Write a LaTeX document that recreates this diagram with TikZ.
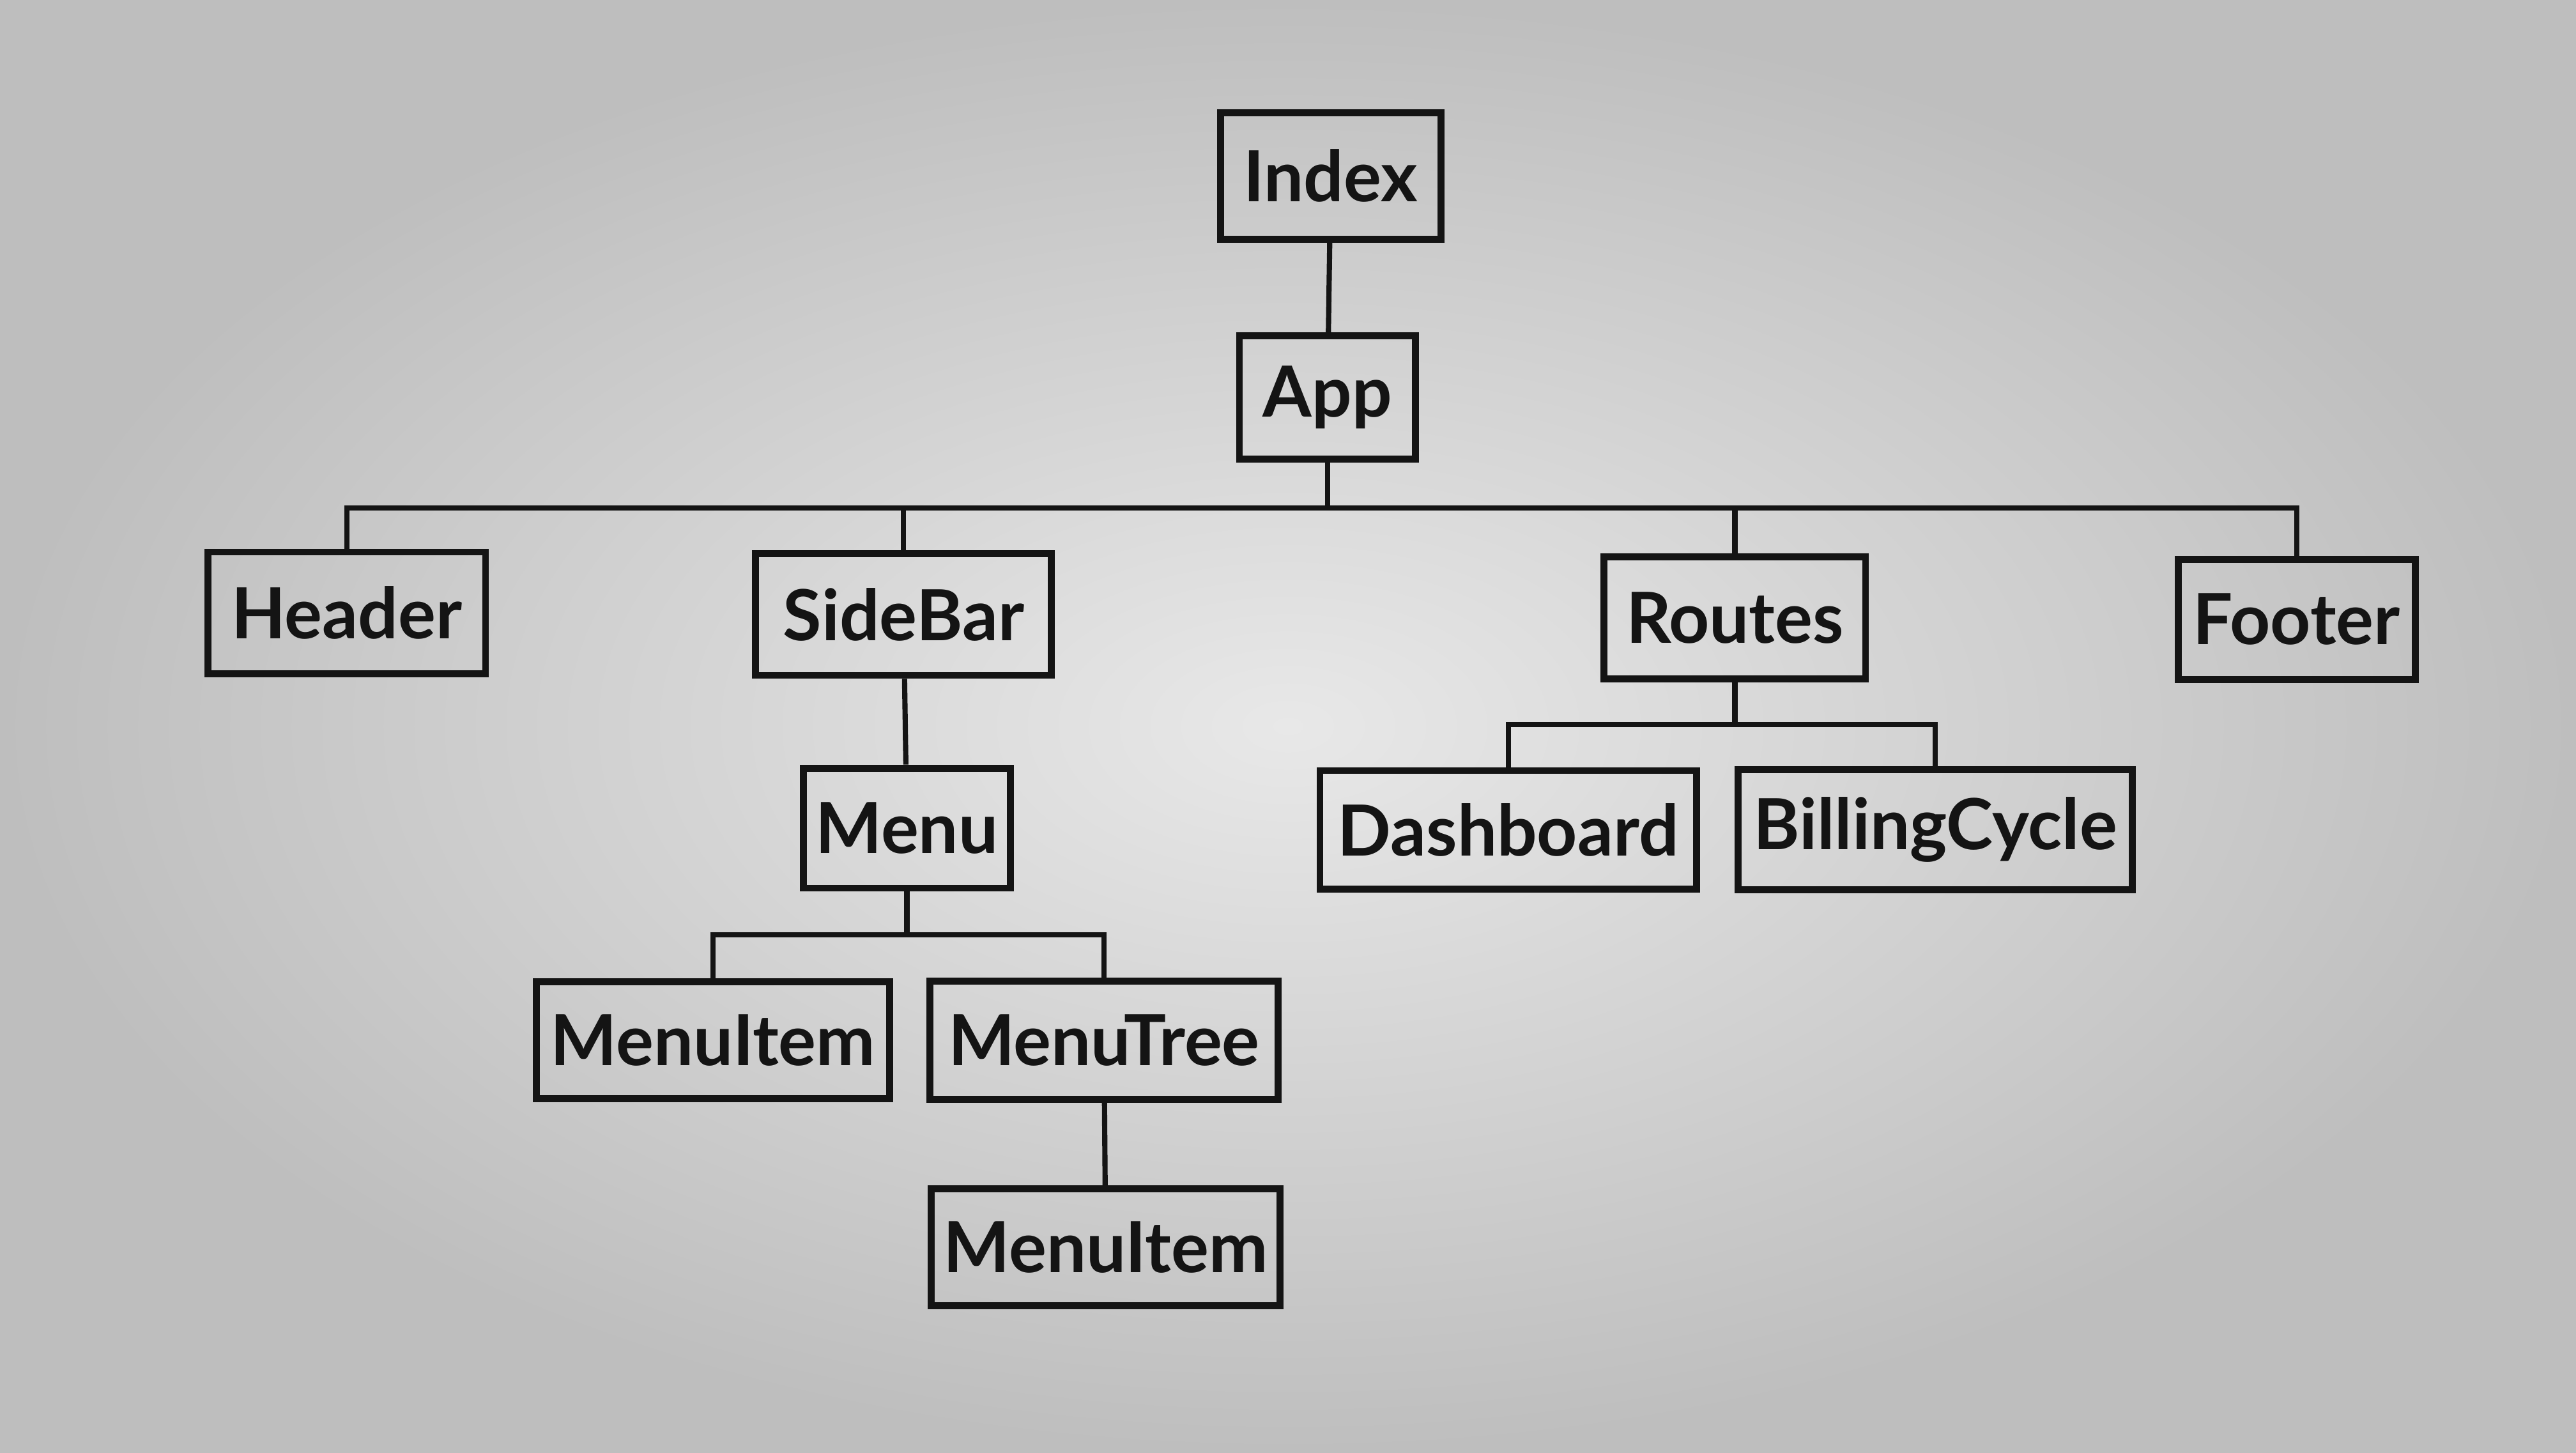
\documentclass[tikz,border=0pt]{standalone}
\usepackage{fontspec}
\setmainfont{Lato}
\definecolor{bgin}{HTML}{E8E8E8}
\definecolor{bgout}{HTML}{BEBEBE}
\definecolor{ink}{HTML}{141414}
\begin{document}
\begin{tikzpicture}[x=0.01cm,y=-0.01cm,
  comp/.style={draw=ink, line width=1.2pt, inner sep=0pt, font=\fontsize{12.2}{14}\selectfont\bfseries, text=ink},
  link/.style={draw=ink, line width=0.9pt}]
\shade[inner color=bgin, outer color=bgout] (0,0) rectangle (1568,884);
\useasboundingbox (0,0) rectangle (1568,884);
\node[comp, minimum width=1.34cm, minimum height=0.77cm] (index) at (810,107) {Index};
\node[comp, minimum width=1.07cm, minimum height=0.75cm] (app) at (808,242) {App};
\node[comp, minimum width=1.69cm, minimum height=0.74cm] (header) at (211,373) {Header};
\node[comp, minimum width=1.80cm, minimum height=0.74cm] (sidebar) at (550,374) {SideBar};
\node[comp, minimum width=1.59cm, minimum height=0.74cm] (routes) at (1056,376) {Routes};
\node[comp, minimum width=1.44cm, minimum height=0.73cm] (footer) at (1398,377) {Footer};
\node[comp, minimum width=1.26cm, minimum height=0.73cm] (menu) at (552,504) {Menu};
\node[comp, minimum width=2.29cm, minimum height=0.72cm] (dashboard) at (918,505) {Dashboard};
\node[comp, minimum width=2.40cm, minimum height=0.73cm] (billing) at (1178,505) {BillingCycle};
\node[comp, minimum width=2.15cm, minimum height=0.71cm] (item1) at (434,633) {MenuItem};
\node[comp, minimum width=2.12cm, minimum height=0.72cm] (menutree) at (672,633) {MenuTree};
\node[comp, minimum width=2.12cm, minimum height=0.71cm] (item2) at (673,759) {MenuItem};
\coordinate (busA) at (808,309);
\coordinate (busR) at (1056,441);
\coordinate (busM) at (552,569);
\draw[link] (index) -- (app);
\draw[link] (app.south) -- (busA);
\draw[link] (header.north) |- (busA);
\draw[link] (sidebar.north) |- (busA);
\draw[link] (routes.north) |- (busA);
\draw[link] (footer.north) |- (busA);
\draw[link] (sidebar) -- (menu);
\draw[link] (routes.south) -- (busR);
\draw[link] (dashboard.north) |- (busR);
\draw[link] (billing.north) |- (busR);
\draw[link] (menu.south) -- (busM);
\draw[link] (item1.north) |- (busM);
\draw[link] (menutree.north) |- (busM);
\draw[link] (menutree) -- (item2);
\end{tikzpicture}
\end{document}
